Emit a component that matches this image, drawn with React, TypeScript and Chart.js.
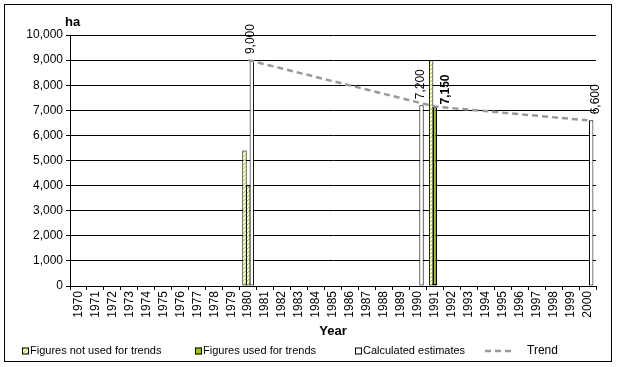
import React, { useEffect, useRef } from "react";
import { Chart, registerables } from "chart.js";

Chart.register(...registerables);

const years = [
  "1970", "1971", "1972", "1973", "1974", "1975", "1976", "1977", "1978", "1979",
  "1980", "1981", "1982", "1983", "1984", "1985", "1986", "1987", "1988", "1989",
  "1990", "1991", "1992", "1993", "1994", "1995", "1996", "1997", "1998", "1999",
  "2000",
];

// Figures not used for trends (first estimate per year)
const notUsedA = [
  null, null, null, null, null, null, null, null, null, null,
  5400, null, null, null, null, null, null, null, null, null,
  null, 9000, null, null, null, null, null, null, null, null,
  null,
];
// Figures not used for trends (second estimate per year)
const notUsedB = [
  null, null, null, null, null, null, null, null, null, null,
  4000, null, null, null, null, null, null, null, null, null,
  null, null, null, null, null, null, null, null, null, null,
  null,
];
// Figures used for trends
const usedValues = [
  null, null, null, null, null, null, null, null, null, null,
  null, null, null, null, null, null, null, null, null, null,
  null, 7150, null, null, null, null, null, null, null, null,
  null,
];
// Calculated estimates
const calcValues = [
  null, null, null, null, null, null, null, null, null, null,
  9000, null, null, null, null, null, null, null, null, null,
  7200, null, null, null, null, null, null, null, null, null,
  6600,
];
// Trend
const trendValues = [
  null, null, null, null, null, null, null, null, null, null,
  9000, null, null, null, null, null, null, null, null, null,
  null, 7150, null, null, null, null, null, null, null, null,
  6600,
];

const yTicks = [0, 1000, 2000, 3000, 4000, 5000, 6000, 7000, 8000, 9000, 10000];

const FONT = "'Liberation Sans', Arial, sans-serif";
const GREEN = "#99cc00";
const TREND = "#999999";

function makeHatch(): CanvasPattern | string {
  const c = document.createElement("canvas");
  c.width = 4;
  c.height = 4;
  const g = c.getContext("2d");
  if (!g) return "#ffffff";
  g.fillStyle = "#ffffff";
  g.fillRect(0, 0, 4, 4);
  g.fillStyle = "#b8d800";
  g.fillRect(3, 0, 1, 1);
  g.fillRect(2, 1, 1, 1);
  g.fillRect(1, 2, 1, 1);
  g.fillRect(0, 3, 1, 1);
  g.fillStyle = "#e8f080";
  g.fillRect(0, 0, 1, 1);
  g.fillRect(3, 1, 1, 1);
  g.fillRect(2, 2, 1, 1);
  g.fillRect(1, 3, 1, 1);
  const p = g.createPattern(c, "repeat");
  return p || "#ffffff";
}

export default function App() {
  const ref = useRef<HTMLCanvasElement | null>(null);

  useEffect(() => {
    const canvas = ref.current;
    if (!canvas) return;
    const hatch = makeHatch();

    const decor = {
      id: "decor",
      beforeDraw(chart: any) {
        const ctx = chart.ctx;
        ctx.save();
        ctx.fillStyle = "#ffffff";
        ctx.fillRect(0, 0, chart.width, chart.height);
        ctx.restore();
      },
      afterDatasetsDraw(chart: any) {
        const ctx = chart.ctx;
        ctx.save();
        ctx.fillStyle = "#000000";
        const drawLabel = (x: number, y: number, text: string, bold: boolean) => {
          ctx.save();
          ctx.translate(x, y);
          ctx.rotate(-Math.PI / 2);
          ctx.font = (bold ? "bold " : "") + "12px " + FONT;
          ctx.textAlign = "left";
          ctx.textBaseline = "middle";
          ctx.fillText(text, 0, 0);
          ctx.restore();
        };
        const calcMeta = chart.getDatasetMeta(3);
        calcValues.forEach((v, i) => {
          if (v == null) return;
          const el = calcMeta.data[i];
          const dx = i === calcValues.length - 1 ? 4 : -1;
          drawLabel(el.x + dx, el.y - 6, v.toLocaleString("en-US"), false);
        });
        const usedMeta = chart.getDatasetMeta(2);
        usedValues.forEach((v, i) => {
          if (v == null) return;
          const el = usedMeta.data[i];
          drawLabel(el.x + 11, el.y - 2, v.toLocaleString("en-US"), true);
        });
        ctx.restore();
      },
      afterDraw(chart: any) {
        const ctx = chart.ctx;
        const area = chart.chartArea;
        ctx.save();
        ctx.strokeStyle = "#000000";
        ctx.lineWidth = 1;
        ctx.strokeRect(4.5, 4.5, 607, 357);
        ctx.fillStyle = "#000000";
        ctx.font = "bold 13px " + FONT;
        ctx.textAlign = "left";
        ctx.textBaseline = "alphabetic";
        ctx.fillText("ha", 65, 26);
        ctx.textAlign = "center";
        ctx.textBaseline = "middle";
        ctx.fillText("Year", (area.left + area.right) / 2, 331);
        const ly = 351;
        ctx.textAlign = "left";
        ctx.font = "11px " + FONT;
        const box = (x: number, fill: any) => {
          ctx.fillStyle = fill;
          ctx.fillRect(x, ly - 3.5, 7, 7);
          ctx.strokeStyle = "#000000";
          ctx.lineWidth = 1;
          ctx.strokeRect(x + 0.5, ly - 3.5 + 0.5, 6, 6);
        };
        box(22, hatch);
        ctx.fillStyle = "#000000";
        ctx.fillText("Figures not used for trends", 30, ly);
        box(195, GREEN);
        ctx.fillStyle = "#000000";
        ctx.fillText("Figures used for trends", 203, ly);
        box(355, "#ffffff");
        ctx.fillStyle = "#000000";
        ctx.fillText("Calculated estimates", 363, ly);
        ctx.strokeStyle = TREND;
        ctx.lineWidth = 2.5;
        ctx.setLineDash([6, 4]);
        ctx.beginPath();
        ctx.moveTo(485, ly);
        ctx.lineTo(514, ly);
        ctx.stroke();
        ctx.setLineDash([]);
        ctx.fillStyle = "#000000";
        ctx.font = "12px " + FONT;
        ctx.fillText("Trend", 527, ly);
        ctx.restore();
      },
    };

    const barCommon = {
      type: "bar" as const,
      borderColor: "#000000",
      borderWidth: 1,
      borderSkipped: false as const,
      categoryPercentage: 0.65,
      barPercentage: 1.2,
      order: 1,
    };

    const chart = new Chart(canvas, {
      type: "bar",
      data: {
        labels: years,
        datasets: [
          { ...barCommon, label: "Figures not used for trends", data: notUsedA, backgroundColor: hatch as any, stack: "a" },
          { ...barCommon, label: "Figures not used for trends (2)", data: notUsedB, backgroundColor: hatch as any, stack: "b" },
          { ...barCommon, label: "Figures used for trends", data: usedValues, backgroundColor: GREEN, borderWidth: 1.5, stack: "b" },
          { ...barCommon, label: "Calculated estimates", data: calcValues, backgroundColor: "#ffffff", stack: "c" },
          {
            type: "line" as const,
            label: "Trend",
            data: trendValues,
            borderColor: TREND,
            borderWidth: 2.5,
            borderDash: [6, 4],
            pointRadius: 0,
            spanGaps: true,
            fill: false,
            order: 0,
          } as any,
        ],
      },
      options: {
        responsive: false,
        animation: false,
        layout: { padding: { left: 0, right: 22, top: 35, bottom: 0 } },
        plugins: {
          legend: { display: false },
          tooltip: { enabled: false },
        },
        scales: {
          x: {
            offset: true,
            grid: {
              offset: true,
              drawOnChartArea: false,
              drawTicks: true,
              tickLength: 4,
              color: "#000000",
            },
            border: { display: true, color: "#000000", width: 1 },
            ticks: {
              color: "#000000",
              font: { family: FONT, size: 12 },
              minRotation: 90,
              maxRotation: 90,
              autoSkip: false,
              padding: 1,
            },
            afterFit: (s: any) => {
              s.height = 81;
            },
          },
          y: {
            stacked: false,
            min: 0,
            max: 10000,
            afterBuildTicks: (s: any) => {
              s.ticks = yTicks.map((v) => ({ value: v }));
            },
            grid: {
              color: "#000000",
              drawTicks: true,
              tickLength: 4,
              lineWidth: 1,
            },
            border: { display: true, color: "#000000", width: 1 },
            ticks: {
              color: "#000000",
              font: { family: FONT, size: 12 },
              padding: 3,
              callback: (v: any) => Number(v).toLocaleString("en-US"),
            },
            afterFit: (s: any) => {
              s.width = 70;
            },
          },
        },
      },
      plugins: [decor],
    } as any);

    return () => chart.destroy();
  }, []);

  return (
    <div style={{ position: "fixed", left: 0, top: 0, width: 618, height: 367 }}>
      <canvas ref={ref} width={618} height={367} style={{ display: "block", width: 618, height: 367 }} />
    </div>
  );
}
